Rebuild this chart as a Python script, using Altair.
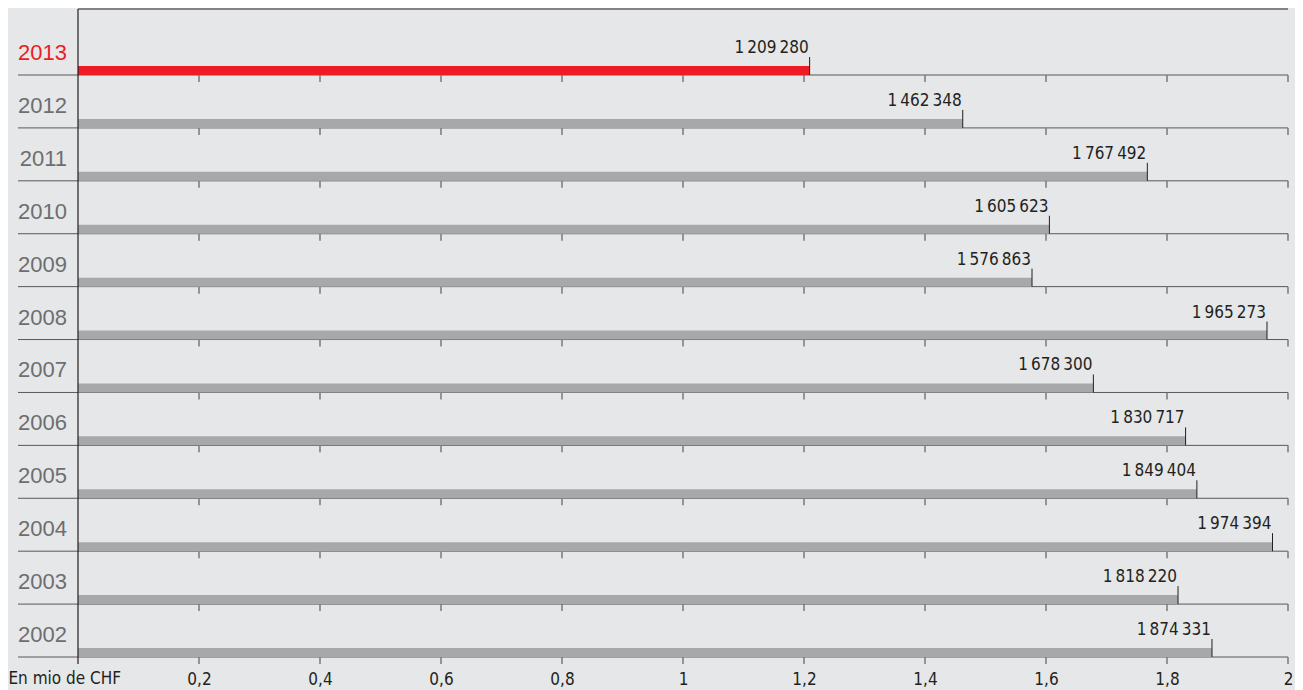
import json
import altair as alt
import pandas as pd

# ---------------- data ----------------
years = ["2013", "2012", "2011", "2010", "2009", "2008",
         "2007", "2006", "2005", "2004", "2003", "2002"]
values_chf = [1209280, 1462348, 1767492, 1605623, 1576863, 1965273,
              1678300, 1830717, 1849404, 1974394, 1818220, 1874331]
value_labels = ["1\u2009209\u2009280", "1\u2009462\u2009348", "1\u2009767\u2009492",
                "1\u2009605\u2009623", "1\u2009576\u2009863", "1\u2009965\u2009273",
                "1\u2009678\u2009300", "1\u2009830\u2009717", "1\u2009849\u2009404",
                "1\u2009974\u2009394", "1\u2009818\u2009220", "1\u2009874\u2009331"]
highlight_year = "2013"
x_ticks = [0, 0.2, 0.4, 0.6, 0.8, 1.0, 1.2, 1.4, 1.6, 1.8, 2.0]
x_tick_labels = ["En mio de CHF", "0,2", "0,4", "0,6", "0,8", "1", "1,2", "1,4", "1,6", "1,8", "2"]

# ---------------- styling ----------------
BG = "#e6e7e9"
RED = "#ed1c24"
BAR_GRAY = "#a7a8aa"
YEAR_GRAY = "#6d6e70"
DARK = "#231f20"
LINE = "#58585a"
NARROW = "Liberation Sans Narrow, DejaVu Sans Condensed, Arial Narrow, sans-serif"
REG = "Liberation Sans, Arial, sans-serif"

W, H = 1210, 648
ROW_PX = 52.909
P_MIN = 1 - 66 / ROW_PX
BAR_H = 9 / ROW_PX
VTICK_H = 18 / ROW_PX
TICK_H = 7 / ROW_PX

df = pd.DataFrame({"year": years, "chf": values_chf, "label": value_labels})
df["row"] = list(range(1, len(years) + 1))
df["v"] = df["chf"] / 1e6

tick_rows = pd.DataFrame(
    [{"row": r, "t": t} for r in df["row"] for t in x_ticks[1:]]
)

xs = alt.Scale(domain=[0, 2], nice=False, zero=False)
ys = alt.Scale(domain=[P_MIN, len(years)], reverse=True, nice=False, zero=False)

label_arr = json.dumps(x_tick_labels)
label_expr = f"datum.value == 0 ? '' : {label_arr}[round(datum.value * 5)]"

x_axis = alt.Axis(
    values=x_ticks,
    labelExpr=label_expr,
    ticks=False,
    domain=False,
    grid=False,
    labelPadding=14,
    labelFont=NARROW,
    labelFontSize=17,
    labelColor=DARK,
    labelFlush=False,
    labelOverlap=False,
    title=None,
)


def X(field):
    return alt.X(field, scale=xs, axis=x_axis, title=None)


base = alt.Chart(df)

# row separator lines
sep = base.mark_rule(color=LINE, strokeWidth=1).encode(
    y=alt.Y("row:Q", scale=ys, axis=None),
    x=alt.value(-60),
    x2=alt.value(W),
)

# small ticks under each row line
ticks = alt.Chart(tick_rows).transform_calculate(
    r2=f"datum.row + {TICK_H}"
).mark_rule(color="#77787a", strokeWidth=1.5).encode(
    x=X("t:Q"),
    y=alt.Y("row:Q", scale=ys, axis=None),
    y2="r2:Q",
)

# bars
bars = base.transform_calculate(
    zero="0", top=f"datum.row - {BAR_H}"
).mark_rect().encode(
    x=X("zero:Q"),
    x2="v:Q",
    y=alt.Y("top:Q", scale=ys, axis=None),
    y2="row:Q",
    color=alt.condition(
        alt.datum.year == highlight_year, alt.value(RED), alt.value(BAR_GRAY)
    ),
)

# vertical marker at bar end
vtick = base.transform_calculate(
    top=f"datum.row - {VTICK_H}"
).mark_rule(color=DARK, strokeWidth=1).encode(
    x=X("v:Q"),
    y=alt.Y("top:Q", scale=ys, axis=None),
    y2="row:Q",
)

# value labels
vlabels = base.mark_text(
    align="right", baseline="alphabetic", dx=-1, dy=-22,
    font=NARROW, fontSize=17, color=DARK,
).encode(
    x=X("v:Q"),
    y=alt.Y("row:Q", scale=ys, axis=None),
    text="label:N",
)

# year labels
ylabels = base.mark_text(
    align="right", baseline="alphabetic", dy=-15, font=REG, fontSize=22,
).encode(
    x=alt.value(-11),
    y=alt.Y("row:Q", scale=ys, axis=None),
    text="year:N",
    color=alt.condition(
        alt.datum.year == highlight_year, alt.value(RED), alt.value(YEAR_GRAY)
    ),
)

# frame: top border and left axis line
frame_df = pd.DataFrame({"a": [0]})
top_line = alt.Chart(frame_df).mark_rule(color=DARK, strokeWidth=1.2).encode(
    x=X("a:Q"),
    x2=alt.datum(2),
    y=alt.datum(P_MIN, scale=ys),
)
left_line = alt.Chart(frame_df).mark_rule(color=DARK, strokeWidth=1.2).encode(
    x=X("a:Q"),
    y=alt.datum(P_MIN, scale=ys),
    y2=alt.datum(len(years) + TICK_H),
)

# axis caption for the zero tick
caption = alt.Chart(pd.DataFrame({"c": [x_tick_labels[0]]})).mark_text(
    align="right", baseline="top", font=NARROW, fontSize=17, color=DARK,
).encode(
    x=alt.value(43),
    y=alt.value(H + 14),
    text="c:N",
)

chart = alt.layer(
    sep, ticks, bars, vtick, vlabels, ylabels, top_line, left_line, caption
).properties(
    width=W,
    height=H,
    background=BG,
    padding={"left": 70, "top": 1, "right": 7, "bottom": 33},
    autosize=alt.AutoSizeParams(type="none"),
).configure_view(stroke=None)

chart.save("out.html", embed_options={"renderer": "svg", "actions": False})
